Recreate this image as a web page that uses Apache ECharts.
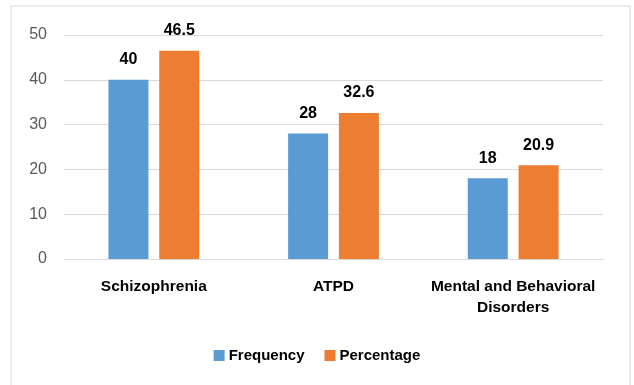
<!DOCTYPE html>
<html>
<head>
<meta charset="utf-8">
<script src="https://cdn.jsdelivr.net/npm/echarts@6/dist/echarts.min.js"></script>
<style>
  html, body { margin: 0; padding: 0; background: #fff; }
  #chart { width: 634px; height: 385px; }
</style>
</head>
<body>
<div id="chart"></div>
<script>
// Diagnoses and their counts / shares
const categories = ['Schizophrenia', 'ATPD', 'Mental and Behavioral\nDisorders'];
const frequency = [40, 28, 18];
const percentage = [46.5, 32.6, 20.9];
const yTicks = [0, 10, 20, 30, 40, 50];

const FONT = '"Liberation Sans", Arial, sans-serif';
const chart = echarts.init(document.getElementById('chart'));

const valueLabel = {
  show: true,
  position: 'top',
  distance: 12,
  color: '#000',
  fontFamily: FONT,
  fontWeight: 'bold',
  fontSize: 16
};

chart.setOption({
  animation: false,
  textStyle: { fontFamily: FONT },
  graphic: [{
    type: 'rect',
    shape: { x: 11, y: 6, width: 619, height: 400 },
    style: { fill: 'none', stroke: '#D9D9D9', lineWidth: 1 },
    silent: true
  }],
  grid: { left: 64, right: 31, top: 35, bottom: 126, containLabel: false },
  legend: {
    top: 343,
    left: 'center',
    itemWidth: 11,
    itemHeight: 11,
    itemGap: 20,
    icon: 'rect',
    textStyle: { fontFamily: FONT, fontWeight: 'bold', fontSize: 15, color: '#000', padding: [0, 0, 0, -1] },
    data: ['Frequency', 'Percentage']
  },
  xAxis: {
    type: 'category',
    data: categories,
    axisLine: { show: true, lineStyle: { color: '#D9D9D9', width: 1 } },
    axisTick: { show: false },
    axisLabel: {
      color: '#000',
      fontFamily: FONT,
      fontWeight: 'bold',
      fontSize: 15.5,
      lineHeight: 21,
      margin: 17,
      interval: 0
    }
  },
  yAxis: {
    type: 'value',
    min: yTicks[0],
    max: yTicks[yTicks.length - 1],
    interval: 10,
    axisLine: { show: false },
    axisTick: { show: false },
    splitLine: { lineStyle: { color: '#D9D9D9', width: 1 } },
    axisLabel: { color: '#595959', fontFamily: FONT, fontSize: 16, margin: 17 }
  },
  series: [
    {
      name: 'Frequency',
      type: 'bar',
      data: frequency,
      barWidth: 40,
      barGap: '27%',
      itemStyle: { color: '#5B9BD5' },
      label: valueLabel
    },
    {
      name: 'Percentage',
      type: 'bar',
      data: percentage,
      barWidth: 40,
      itemStyle: { color: '#ED7D31' },
      label: valueLabel
    }
  ]
});
</script>
</body>
</html>
